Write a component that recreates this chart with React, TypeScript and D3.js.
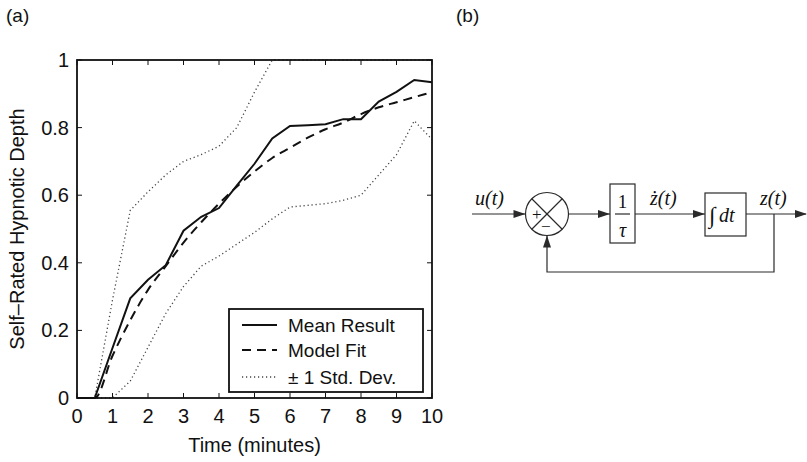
import React from "react";
import * as d3 from "d3";

const times = [0, 0.5, 1, 1.5, 2, 2.5, 3, 3.5, 4, 4.5, 5, 5.5, 6, 6.5, 7, 7.5, 8, 8.5, 9, 9.5, 10];
const meanResult = [0, 0, 0.148, 0.295, 0.35, 0.393, 0.495, 0.536, 0.562, 0.628, 0.693, 0.768, 0.805, 0.807, 0.81, 0.825, 0.825, 0.877, 0.906, 0.941, 0.934];
const modelFit = [0, 0, 0.125, 0.23, 0.32, 0.39, 0.46, 0.52, 0.575, 0.625, 0.67, 0.71, 0.74, 0.77, 0.795, 0.815, 0.84, 0.86, 0.875, 0.89, 0.905];
const upperStd = [0, 0, 0.29, 0.555, 0.61, 0.66, 0.7, 0.72, 0.745, 0.8, 0.905, 1, 1, 1, 1, 1, 1, 1, 1, 1, 1];
const lowerStd = [0, 0, 0, 0.05, 0.15, 0.25, 0.33, 0.39, 0.42, 0.455, 0.49, 0.53, 0.565, 0.57, 0.575, 0.585, 0.6, 0.66, 0.72, 0.82, 0.765];

const xTicks = [0, 1, 2, 3, 4, 5, 6, 7, 8, 9, 10];
const yTicks = [0, 0.2, 0.4, 0.6, 0.8, 1];
const legendLabels = ["Mean Result", "Model Fit", "\u00B1 1 Std. Dev."];

const W = 807;
const H = 462;
const box = { left: 77, right: 432, top: 60, bottom: 398 };
const SANS = "'Liberation Sans', Arial, Helvetica, sans-serif";
const SERIF = "'Liberation Serif', 'Times New Roman', serif";

export default function App() {
  const x = d3.scaleLinear().domain([0, 10]).range([box.left, box.right]);
  const y = d3.scaleLinear().domain([0, 1]).range([box.bottom, box.top]);
  const mk = (vals: number[]) =>
    d3
      .line<number>()
      .x((_, i) => x(times[i]))
      .y((d) => y(d))(vals) || "";
  const mkSmooth = (vals: number[]) =>
    d3
      .line<number>()
      .x((_, i) => x(times[i]))
      .y((d) => y(d))
      .curve(d3.curveMonotoneX)(vals) || "";

  const tickLen = 5;
  const lg = { x: 229, y: 309, w: 194, h: 83 };
  const lgRows = [325, 350, 377];
  const dotStyle = { c: "#444", w: 1.3, dash: "1.2 2.8" };
  const lgStyles = [
    { dash: "none", w: 2, c: "#111" },
    { dash: "9 6", w: 2, c: "#111" },
    { dash: dotStyle.dash, w: dotStyle.w, c: dotStyle.c },
  ];

  // block diagram geometry
  const yMain = 214;
  const cx = 547;
  const r = 21.5;
  const b1 = { x0: 610, x1: 635, y0: 184, y1: 243 };
  const b2 = { x0: 705, x1: 746, y0: 193, y1: 236 };
  const fbX = 774;
  const fbY = 272;
  const dc = "#2a2a2a";
  const arrow = (xe: number, ye: number, dir: "r" | "u") => {
    if (dir === "r") return `M${xe},${ye} L${xe - 12},${ye - 4} L${xe - 12},${ye + 4} Z`;
    return `M${xe},${ye} L${xe - 4},${ye + 12} L${xe + 4},${ye + 12} Z`;
  };
  const d45 = r * Math.SQRT1_2;

  return (
    <svg
      width={W}
      height={H}
      style={{ position: "absolute", left: 0, top: 0, background: "#fff" }}
      fontFamily={SANS}
    >
      <rect x={0} y={0} width={W} height={H} fill="#fff" />
      <text x={6} y={22} fontSize={19} fill="#111">(a)</text>
      <text x={456} y={22} fontSize={19} fill="#111">(b)</text>

      {/* data lines */}
      <path d={mk(upperStd)} fill="none" stroke={dotStyle.c} strokeWidth={dotStyle.w} strokeDasharray={dotStyle.dash} />
      <path d={mk(lowerStd)} fill="none" stroke={dotStyle.c} strokeWidth={dotStyle.w} strokeDasharray={dotStyle.dash} />
      <path d={mkSmooth(modelFit)} fill="none" stroke="#111" strokeWidth={2} strokeDasharray="9 6" />
      <path d={mk(meanResult)} fill="none" stroke="#111" strokeWidth={2} />

      {/* axes box */}
      <rect
        x={box.left}
        y={box.top}
        width={box.right - box.left}
        height={box.bottom - box.top}
        fill="none"
        stroke="#111"
        strokeWidth={1.8}
      />
      {xTicks.map((t) => (
        <g key={"xt" + t}>
          <line x1={x(t)} x2={x(t)} y1={box.bottom} y2={box.bottom - tickLen} stroke="#111" />
          <line x1={x(t)} x2={x(t)} y1={box.top} y2={box.top + tickLen} stroke="#111" />
          <text x={x(t)} y={423} fontSize={20} textAnchor="middle" fill="#111">
            {t}
          </text>
        </g>
      ))}
      {yTicks.map((t) => (
        <g key={"yt" + t}>
          <line x1={box.left} x2={box.left + tickLen} y1={y(t)} y2={y(t)} stroke="#111" />
          <line x1={box.right} x2={box.right - tickLen} y1={y(t)} y2={y(t)} stroke="#111" />
          <text x={69} y={y(t) + 7} fontSize={20} textAnchor="end" fill="#111">
            {String(t)}
          </text>
        </g>
      ))}
      <text x={(box.left + box.right) / 2} y={452} fontSize={20} textAnchor="middle" fill="#111">
        Time (minutes)
      </text>
      <text
        transform={`translate(24,${(box.top + box.bottom) / 2}) rotate(-90)`}
        fontSize={20}
        textAnchor="middle"
        fill="#111"
      >
        Self–Rated Hypnotic Depth
      </text>

      {/* legend */}
      <rect x={lg.x} y={lg.y} width={lg.w} height={lg.h} fill="#fff" stroke="#111" strokeWidth={1.8} />
      {legendLabels.map((l, i) => (
        <g key={l}>
          <line
            x1={242}
            x2={277}
            y1={lgRows[i]}
            y2={lgRows[i]}
            stroke={lgStyles[i].c}
            strokeWidth={lgStyles[i].w}
            strokeDasharray={lgStyles[i].dash}
          />
          <text x={288} y={lgRows[i] + 7} fontSize={19} fill="#111">
            {l}
          </text>
        </g>
      ))}

      {/* block diagram */}
      <g stroke={dc} strokeWidth={1.2} fill="none">
        <line x1={472} x2={cx - r} y1={yMain} y2={yMain} />
        <circle cx={cx} cy={yMain} r={r} />
        <line x1={cx - d45} y1={yMain - d45} x2={cx + d45} y2={yMain + d45} />
        <line x1={cx - d45} y1={yMain + d45} x2={cx + d45} y2={yMain - d45} />
        <line x1={cx + r} x2={b1.x0} y1={yMain} y2={yMain} />
        <rect x={b1.x0} y={b1.y0} width={b1.x1 - b1.x0} height={b1.y1 - b1.y0} />
        <line x1={b1.x0 + 5} x2={b1.x1 - 5} y1={yMain} y2={yMain} />
        <line x1={b1.x1} x2={b2.x0} y1={yMain} y2={yMain} />
        <rect x={b2.x0} y={b2.y0} width={b2.x1 - b2.x0} height={b2.y1 - b2.y0} />
        <line x1={b2.x1} x2={806} y1={yMain} y2={yMain} />
        <polyline points={`${fbX},${yMain} ${fbX},${fbY} ${cx},${fbY} ${cx},${yMain + r}`} />
      </g>
      <g fill={dc}>
        <path d={arrow(cx - r, yMain, "r")} />
        <path d={arrow(b1.x0, yMain, "r")} />
        <path d={arrow(b2.x0, yMain, "r")} />
        <path d={arrow(807, yMain, "r")} />
        <path d={arrow(cx, yMain + r, "u")} />
      </g>
      <g fontFamily={SERIF} fill="#111">
        <text x={532} y={220} fontSize={17}>+</text>
        <text x={541} y={232} fontSize={17}>−</text>
        <text x={475} y={205} fontSize={20} fontStyle="italic">u(t)</text>
        <text x={622.5} y={208} fontSize={19} textAnchor="middle">1</text>
        <text x={622.5} y={237} fontSize={20} textAnchor="middle" fontStyle="italic">τ</text>
        <text x={650} y={205} fontSize={20} fontStyle="italic">ż(t)</text>
        <text x={709} y={223} fontSize={23} fontStyle="italic">∫</text>
        <text x={719} y={222} fontSize={20} fontStyle="italic">dt</text>
        <text x={760} y={205} fontSize={20} fontStyle="italic">z(t)</text>
      </g>
    </svg>
  );
}
